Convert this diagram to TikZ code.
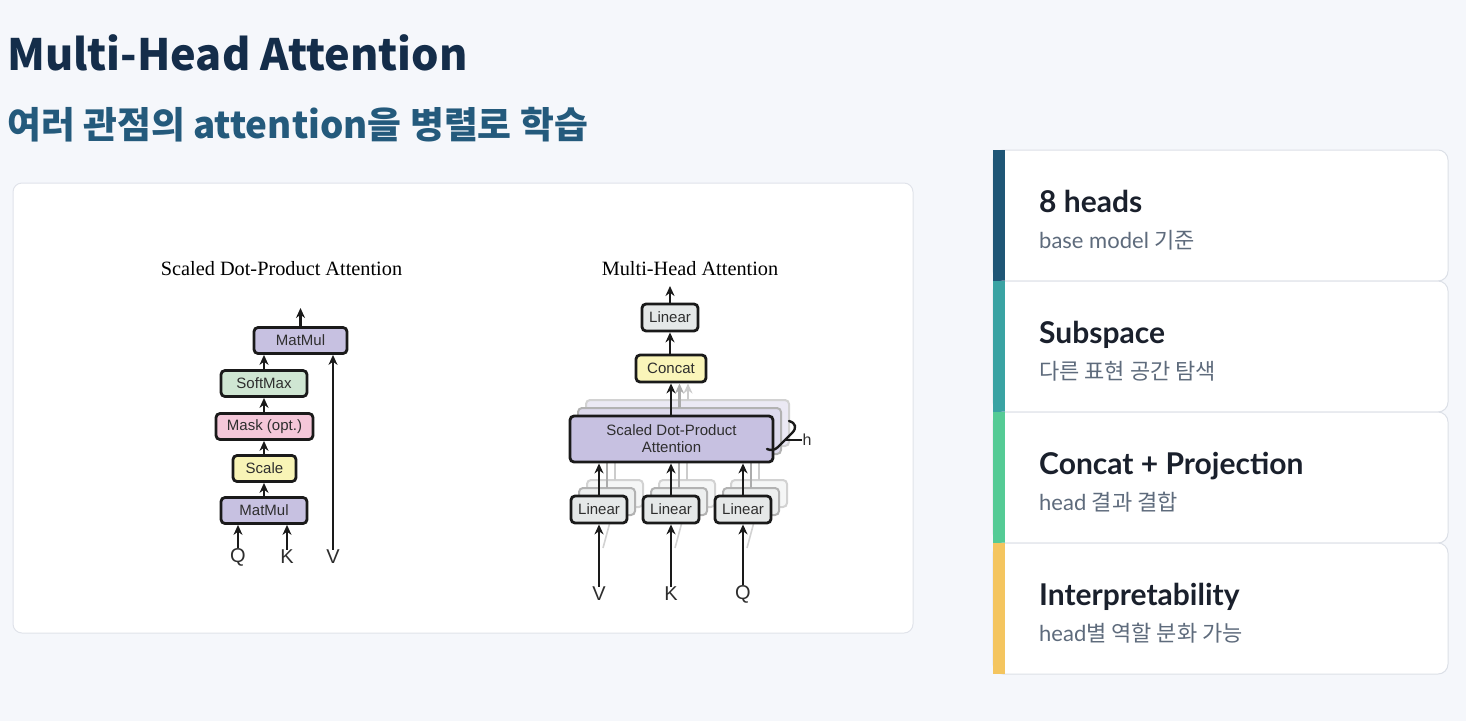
\documentclass[tikz,border=0pt]{standalone}
\usepackage{fontspec}
\setmainfont{Liberation Serif}
\newfontfamily\helv{Liberation Sans}
\newfontfamily\kr{Noto Sans CJK KR}
\newfontfamily\lato{Lato}
\usetikzlibrary{arrows.meta}
\usetikzlibrary{positioning}

\definecolor{pagebg}{HTML}{F5F7FB}
\definecolor{panelline}{HTML}{E0E3EA}
\definecolor{cardline}{HTML}{DCE0E7}
\definecolor{titletxt}{HTML}{142D4A}
\definecolor{subtitletxt}{HTML}{245A7C}
\definecolor{headtxt}{HTML}{1A202C}
\definecolor{subtxt}{HTML}{5E6B7C}
\definecolor{boxline}{HTML}{1A1A1A}
\definecolor{boxtxt}{HTML}{2E2E2E}
\definecolor{mmpurple}{HTML}{C7C1E1}
\definecolor{smgreen}{HTML}{CFE6D2}
\definecolor{mkpink}{HTML}{F4C7D9}
\definecolor{scyellow}{HTML}{F8F4B6}
\definecolor{lingray}{HTML}{E5E8E8}
\definecolor{ccyellow}{HTML}{FAF5B9}
\definecolor{stripeA}{HTML}{1F5676}
\definecolor{stripeB}{HTML}{3AA3A3}
\definecolor{stripeC}{HTML}{55CB95}
\definecolor{stripeD}{HTML}{F4C55F}

\tikzset{
  blk/.style={draw=boxline, line width=2.8pt, rounded corners=4pt, inner sep=0pt,
    text=boxtxt, minimum height=26pt, font=\helv\fontsize{15}{17}\selectfont},
  ghost/.style={line width=2pt, rounded corners=4pt},
  arr/.style={draw=boxline, line width=2.8pt, -{Stealth[length=10pt,width=9pt]}},
  lbl/.style={inner sep=0pt, text=boxtxt, font=\helv\fontsize{20}{20}\selectfont},
  figtitle/.style={inner sep=0pt, font=\fontsize{20.3}{21}\selectfont},
  card/.style={draw=cardline, line width=1pt, fill=white, rounded corners=10pt},
  cardhead/.style={anchor=base west, inner sep=0pt, text=headtxt,
    font=\lato\bfseries\fontsize{30}{30}\selectfont},
  cardsub/.style={anchor=base west, inner sep=0pt, text=subtxt,
    font=\fontsize{22}{22}\selectfont},
}

\begin{document}
\begin{tikzpicture}[x=1pt,y=-1pt]
	\fill[pagebg] (0,0) rectangle (1466,721);
	\useasboundingbox (0,0) rectangle (1466,721);

	% heading
	\node[anchor=base west, inner sep=0pt, text=titletxt, font=\kr\bfseries\fontsize{43.2}{44}\selectfont] (title) at (7,70) {Multi-Head Attention};
	\node[anchor=base west, inner sep=0pt, text=subtitletxt, font=\kr\bfseries\fontsize{36.8}{37}\selectfont] (subtitle) at (7,138) {여러 관점의 attention을 병렬로 학습};

	% figure panel
	\draw[panelline, line width=1pt, fill=white, rounded corners=9pt] (13,183) rectangle (913,633);

	% scaled dot-product attention
	\node[figtitle] (sdtitle) at (281.5,269) {Scaled Dot-Product Attention};
	\node[blk, fill=mmpurple, minimum width=93pt] (mmtop) at (300.5,340.5) {MatMul};
	\node[blk, fill=smgreen, minimum width=86pt] (smax) at (264,383.5) {SoftMax};
	\node[blk, fill=mkpink, minimum width=97pt] (mask) at (264.5,426.5) {Mask (opt.)};
	\node[blk, fill=scyellow, minimum width=63pt] (scale) at (264.5,468.5) {Scale};
	\node[blk, fill=mmpurple, minimum width=86pt] (mmbot) at (264,510.5) {MatMul};
	\node[lbl] (sq) at (238,557) {Q};
	\node[lbl] (sk) at (287,557) {K};
	\node[lbl] (sv) at (333,557) {V};
	\coordinate (sdout) at (300.5,308);

	\draw[arr] (sq.north) -- (sq.north |- mmbot.south);
	\draw[arr] (sk.north) -- (sk.north |- mmbot.south);
	\draw[arr] (sv.north) -- (sv.north |- mmtop.south);
	\draw[arr] (mmbot.north) -- (mmbot.north |- scale.south);
	\draw[arr] (scale.north -| mmbot.north) -- (mmbot.north |- mask.south);
	\draw[arr] (mask.north -| mmbot.north) -- (mmbot.north |- smax.south);
	\draw[arr] (smax.north) -- (smax.north |- mmtop.south);
	\draw[arr] (mmtop.north) -- (sdout);

	% multi-head attention
	\node[figtitle] (mhtitle) at (690,269) {Multi-Head Attention};

	% copies behind (the h heads)
	\draw[ghost, draw=gray!35, fill=mmpurple!35] (586,400) rectangle (789,446);
	\draw[ghost, draw=gray!60, fill=mmpurple!60] (578,408) rectangle (781,454);
	\draw[ghost, draw=gray!35, fill=lingray!40] (587,480) rectangle (643,507);
	\draw[ghost, draw=gray!35, fill=lingray!40] (659,480) rectangle (715,507);
	\draw[ghost, draw=gray!35, fill=lingray!40] (731,480) rectangle (787,507);
	\draw[ghost, draw=gray!60, fill=lingray!70] (579,488) rectangle (635,515);
	\draw[ghost, draw=gray!60, fill=lingray!70] (651,488) rectangle (707,515);
	\draw[ghost, draw=gray!60, fill=lingray!70] (723,488) rectangle (779,515);
	\draw[gray!40, line width=2.2pt] (615,480) -- (615,446);
	\draw[gray!40, line width=2.2pt] (687,480) -- (687,446);
	\draw[gray!40, line width=2.2pt] (759,480) -- (759,446);
	\draw[gray!65, line width=2.2pt] (607,488) -- (607,454);
	\draw[gray!65, line width=2.2pt] (679,488) -- (679,454);
	\draw[gray!65, line width=2.2pt] (751,488) -- (751,454);
	\draw[gray!35, line width=1.6pt] (603,548) -- (610,522);
	\draw[gray!35, line width=1.6pt] (675,548) -- (682,522);
	\draw[gray!35, line width=1.6pt] (747,548) -- (754,522);

	\node[blk, fill=lingray, minimum width=56pt, minimum height=27pt] (lintop) at (670,317.5) {Linear};
	\node[blk, fill=ccyellow, minimum width=70pt, minimum height=27pt] (concat) at (671,368.5) {Concat};
	\node[blk, fill=mmpurple, minimum width=203pt, minimum height=46pt, align=center] (sdpa) at (671.5,439) {Scaled Dot-Product\\Attention};
	\node[blk, fill=lingray, minimum width=56pt, minimum height=27pt] (linv) at (599,509.5) {Linear};
	\node[blk, fill=lingray, minimum width=56pt, minimum height=27pt] (link) at (671,509.5) {Linear};
	\node[blk, fill=lingray, minimum width=56pt, minimum height=27pt] (linq) at (743,509.5) {Linear};
	\node[lbl] (mv) at (599,594) {V};
	\node[lbl] (mk) at (671,594) {K};
	\node[lbl] (mq) at (743,594) {Q};
	\node[inner sep=0pt, text=boxtxt, font=\helv\fontsize{16}{16}\selectfont] (hh) at (807,440) {h};
	\coordinate (mhout) at (670,286);

	\draw[arr] (mv.north) -- (linv.south);
	\draw[arr] (mk.north) -- (link.south);
	\draw[arr] (mq.north) -- (linq.south);
	\draw[arr] (linv.north) -- (linv.north |- sdpa.south);
	\draw[arr] (link.north) -- (link.north |- sdpa.south);
	\draw[arr] (linq.north) -- (linq.north |- sdpa.south);
	\draw[arr, draw=gray!40] (688,400) -- (688,383.5);
	\draw[arr, draw=gray!65] (679.5,408) -- (679.5,383.5);
	\draw[arr] (sdpa.north -| concat.south) -- (concat.south);
	\draw[arr] (concat.north -| lintop.south) -- (lintop.south);
	\draw[arr] (lintop.north) -- (mhout);

	% brace for h
	\draw[boxline, line width=2.4pt, line cap=round, line join=round] (789,421) .. controls (796,423) and (797,428) .. (792,433) -- (778,447) .. controls (775,450) and (771,451) .. (767,449);
	\draw[boxline, line width=1.4pt] (785,440) -- (hh.west);

	% cards
	\draw[card] (993,150) rectangle (1448,281);
	\fill[stripeA] (993,150) rectangle (1005,281);
	\draw[card] (993,281) rectangle (1448,412);
	\fill[stripeB] (993,281) rectangle (1005,412);
	\draw[card] (993,412) rectangle (1448,543);
	\fill[stripeC] (993,412) rectangle (1005,543);
	\draw[card] (993,543) rectangle (1448,674);
	\fill[stripeD] (993,543) rectangle (1005,674);

	\node[cardhead] (heads) at (1039,212) {8 heads};
	\node[cardsub] (headsub) at (1039,248) {\lato base model \kr 기준};
	\node[cardhead] (subsp) at (1039,343) {Subspace};
	\node[cardsub] (subspsub) at (1039,379) {\kr 다른 표현 공간 탐색};
	\node[cardhead] (concp) at (1039,474) {Concat + Projection};
	\node[cardsub] (concpsub) at (1039,510) {\lato head \kr 결과 결합};
	\node[cardhead] (interp) at (1039,605) {Interpretability};
	\node[cardsub] (interpsub) at (1039,641) {\lato head\kr 별 역할 분화 가능};

\end{tikzpicture}
\end{document}
